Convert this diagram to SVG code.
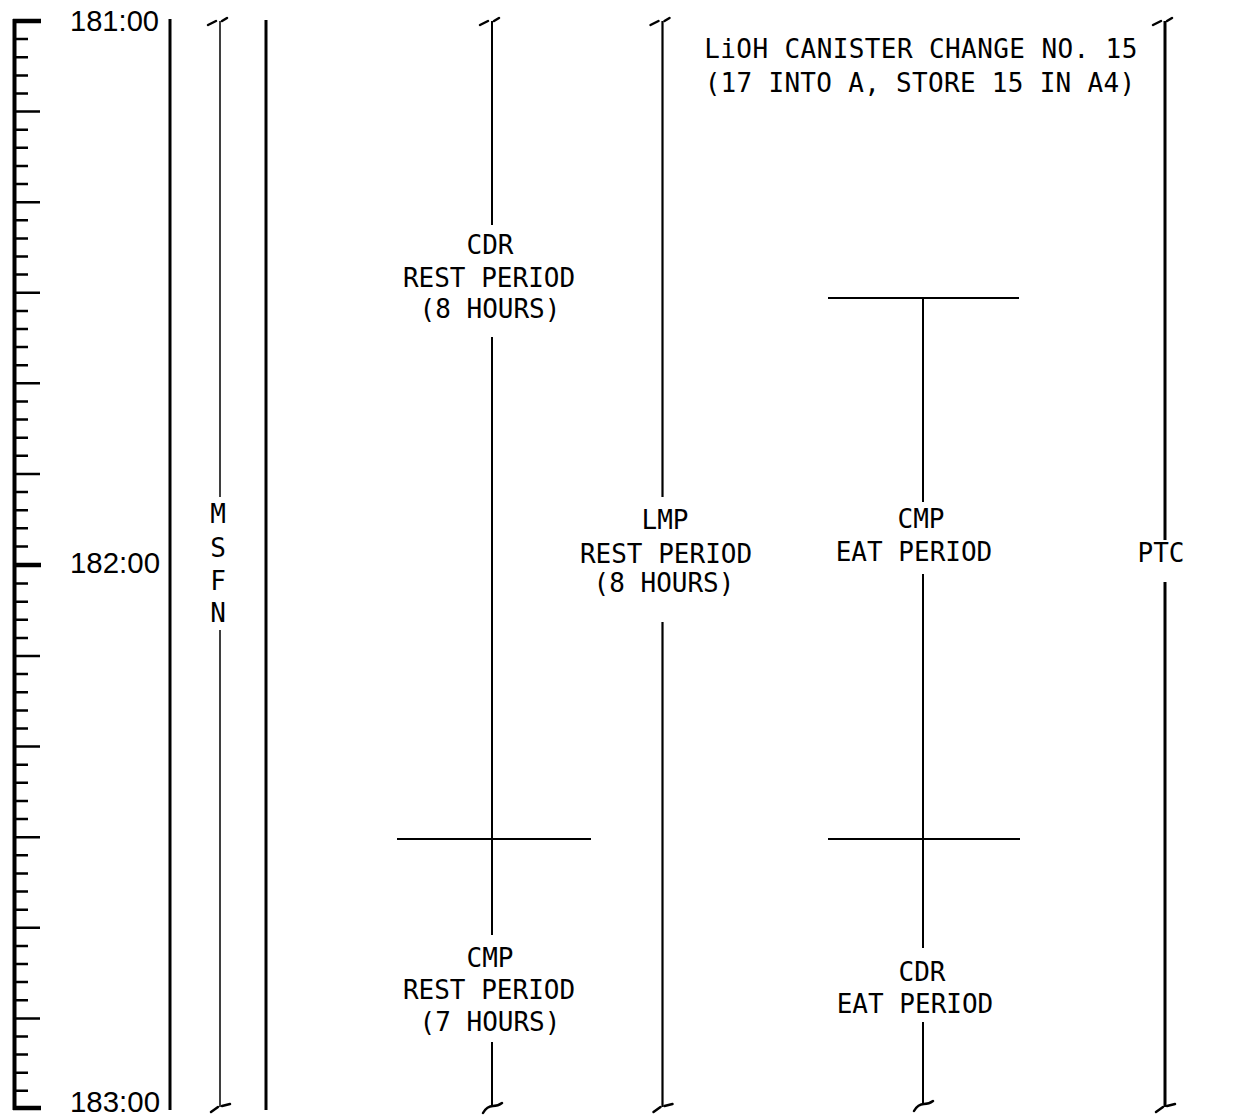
<svg xmlns="http://www.w3.org/2000/svg" xmlns:xlink="http://www.w3.org/1999/xlink" width="1248" height="1117" viewBox="0 0 1248 1117">
<style>
  .t { font-family: "DejaVu Sans Mono", "Liberation Mono", monospace; font-size: 26px; fill: #000; text-anchor: middle; }
  .time { font-family: "Liberation Sans", Arial, sans-serif; font-size: 30px; fill: #000; }
  .ln { stroke: #000; fill: none; }
  .hook { stroke: #000; fill: none; stroke-width: 2.5; stroke-linecap: round; }
</style>
<defs>
  <path id="hookTop" d="M-12,4 L-4,0 M2,0 L7,-3" class="hook"/>
  <path id="hookBot" d="M-9,5 L-2,0 M2,-1 L10,-3" class="hook"/>
  <path id="curlBot" d="M-9,7 Q-5,0 1,0 Q6,0 10,-3" class="hook"/>
</defs>
<rect width="1248" height="1117" fill="#fff"/>

<g id="ruler">
  <line class="ln" x1="14.5" y1="19" x2="14.5" y2="1110" stroke-width="4"/>
  <g id="ticks" class="ln" stroke-width="2.5">
    <path d="M14,39.1H28 M14,57.2H28 M14,75.4H28 M14,93.5H28 M14,111.6H40 M14,129.7H28 M14,147.8H28 M14,165.9H28 M14,184.1H28 M14,202.2H40 M14,220.3H28 M14,238.4H28 M14,256.5H28 M14,274.6H28 M14,292.8H40 M14,310.9H28 M14,329H28 M14,347.1H28 M14,365.2H28 M14,383.3H40 M14,401.5H28 M14,419.6H28 M14,437.7H28 M14,455.8H28 M14,473.9H40 M14,492H28 M14,510.2H28 M14,528.3H28 M14,546.4H28"/>
    <path d="M14,583.6H28 M14,601.7H28 M14,619.8H28 M14,637.9H28 M14,656H40 M14,674.1H28 M14,692.3H28 M14,710.4H28 M14,728.5H28 M14,746.6H40 M14,764.7H28 M14,782.8H28 M14,801H28 M14,819.1H28 M14,837.2H40 M14,855.3H28 M14,873.4H28 M14,891.5H28 M14,909.7H28 M14,927.8H40 M14,945.9H28 M14,964H28 M14,982.1H28 M14,1000.2H28 M14,1018.4H40 M14,1036.5H28 M14,1054.6H28 M14,1072.7H28 M14,1090.8H28"/>
  </g>
  <path class="ln" stroke-width="4.5" d="M13,21H41 M13,565H41 M13,1108H41"/>
  <text class="time" x="70" y="31" textLength="89" lengthAdjust="spacingAndGlyphs">181:00</text>
  <text class="time" x="70" y="573" textLength="90" lengthAdjust="spacingAndGlyphs">182:00</text>
  <text class="time" x="70" y="1112" textLength="90" lengthAdjust="spacingAndGlyphs">183:00</text>
</g>

<g id="connectors">
  <line class="ln" x1="170" y1="19" x2="170" y2="1110" stroke-width="3"/>
  <line class="ln" x1="266" y1="20" x2="266" y2="1110" stroke-width="3"/>
  <!-- MSFN -->
  <path class="ln" stroke-width="1.5" d="M220,21V497 M220,630V1107"/>
  <use xlink:href="#hookTop" x="220" y="21"/>
  <use xlink:href="#hookBot" x="220" y="1107"/>
  <!-- CDR / CMP rest column -->
  <path class="ln" stroke-width="2" d="M492,21V225 M492,337V935 M492,1042V1106"/>
  <use xlink:href="#hookTop" x="492" y="21"/>
  <use xlink:href="#curlBot" x="492" y="1106"/>
  <line class="ln" x1="397" y1="839" x2="591" y2="839" stroke-width="2"/>
  <!-- LMP column -->
  <path class="ln" stroke-width="2.2" d="M662.5,21V497 M662.5,622V1107"/>
  <use xlink:href="#hookTop" x="662.5" y="21"/>
  <use xlink:href="#hookBot" x="662.5" y="1107"/>
  <!-- Eat column -->
  <path class="ln" stroke-width="2" d="M923,298V502 M923,574V948 M923,1022V1104"/>
  <use xlink:href="#curlBot" x="923" y="1104"/>
  <line class="ln" x1="828" y1="298" x2="1019" y2="298" stroke-width="2"/>
  <line class="ln" x1="828" y1="839" x2="1020" y2="839" stroke-width="2"/>
  <!-- PTC column -->
  <path class="ln" stroke-width="3" d="M1165,21V540 M1165,582V1107"/>
  <use xlink:href="#hookTop" x="1165" y="21"/>
  <use xlink:href="#hookBot" x="1165" y="1107"/>
</g>

<g id="msfn">
  <text class="t" x="218" y="523" font-size="25">M</text>
  <text class="t" x="218" y="557" font-size="25">S</text>
  <text class="t" x="218" y="590" font-size="25">F</text>
  <text class="t" x="218" y="622" font-size="25">N</text>
</g>

<g id="lioh">
  <text class="t" x="921" y="58" letter-spacing="0.4">LiOH CANISTER CHANGE NO. 15</text>
  <text class="t" x="920" y="92" letter-spacing="0.3">(17 INTO A, STORE 15 IN A4)</text>
</g>

<g id="cdr-rest">
  <text class="t" x="490" y="254">CDR</text>
  <text class="t" x="489" y="287">REST PERIOD</text>
  <text class="t" x="490" y="318">(8 HOURS)</text>
</g>

<g id="lmp-rest">
  <text class="t" x="665" y="529">LMP</text>
  <text class="t" x="666" y="563">REST PERIOD</text>
  <text class="t" x="664" y="592">(8 HOURS)</text>
</g>

<g id="cmp-eat">
  <text class="t" x="921" y="528">CMP</text>
  <text class="t" x="914" y="561">EAT PERIOD</text>
</g>

<g id="ptc">
  <text class="t" x="1161" y="562">PTC</text>
</g>

<g id="cmp-rest">
  <text class="t" x="490" y="967">CMP</text>
  <text class="t" x="489" y="999">REST PERIOD</text>
  <text class="t" x="490" y="1031">(7 HOURS)</text>
</g>

<g id="cdr-eat">
  <text class="t" x="922" y="981">CDR</text>
  <text class="t" x="915" y="1013">EAT PERIOD</text>
</g>
</svg>
